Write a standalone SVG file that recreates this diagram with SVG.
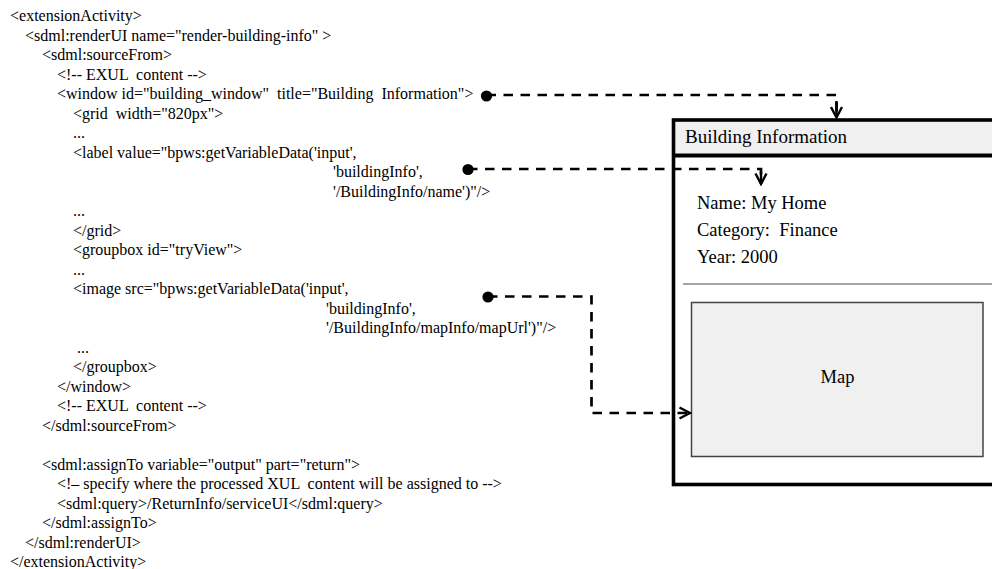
<svg xmlns="http://www.w3.org/2000/svg" width="992" height="569" viewBox="0 0 992 569">
  <style>
    .code { font-family: "Liberation Serif", "Times New Roman", serif; font-size: 16px; fill: #000; }
    .ui { font-family: "Liberation Serif", "Times New Roman", serif; font-size: 18.5px; fill: #000; }
    .title { font-size: 19px; }
    .frame { fill: none; stroke: #000; stroke-width: 3.6; }
    .link { fill: none; stroke: #000; stroke-width: 2.7; stroke-dasharray: 9.5 7.5; }
    .dot { fill: #000; }
  </style>
  <defs>
    <marker id="openArrow" viewBox="0 0 14 14" refX="12" refY="7" markerWidth="14" markerHeight="14" markerUnits="userSpaceOnUse" orient="auto">
      <path d="M1.5,1.5 L12,7 L1.5,12.5" fill="none" stroke="#000" stroke-width="2.4" stroke-dasharray="none"/>
    </marker>
  </defs>
  <rect width="992" height="569" fill="#fff"/>

  <!-- XML listing -->
  <g id="listing" class="code">
    <text x="10" y="21">&lt;extensionActivity&gt;</text>
    <text x="25" y="40.5">&lt;sdml:renderUI name="render-building-info" &gt;</text>
    <text x="42" y="60">&lt;sdml:sourceFrom&gt;</text>
    <text x="57" y="79.5">&lt;!-- EXUL &#160;content --&gt;</text>
    <text x="57" y="99">&lt;window id="building_window" &#160;title="Building &#160;Information"&gt;</text>
    <text x="73" y="118.5">&lt;grid &#160;width="820px"&gt;</text>
    <text x="73" y="138">...</text>
    <text x="73" y="157.5">&lt;label value="bpws:getVariableData('input',</text>
    <text x="333" y="177">'buildingInfo',</text>
    <text x="333" y="196.5">'/BuildingInfo/name')"/&gt;</text>
    <text x="73" y="216">...</text>
    <text x="73" y="235.5">&lt;/grid&gt;</text>
    <text x="73" y="255">&lt;groupbox id="tryView"&gt;</text>
    <text x="73" y="274.5">...</text>
    <text x="73" y="294">&lt;image src="bpws:getVariableData('input',</text>
    <text x="326" y="313.5">'buildingInfo',</text>
    <text x="326" y="333">'/BuildingInfo/mapInfo/mapUrl')"/&gt;</text>
    <text x="77" y="352.5">...</text>
    <text x="73" y="372">&lt;/groupbox&gt;</text>
    <text x="57" y="391.5">&lt;/window&gt;</text>
    <text x="57" y="411">&lt;!-- EXUL &#160;content --&gt;</text>
    <text x="42" y="430.5">&lt;/sdml:sourceFrom&gt;</text>
    <text x="42" y="469.5">&lt;sdml:assignTo variable="output" part="return"&gt;</text>
    <text x="57" y="489">&lt;!– specify where the processed XUL &#160;content will be assigned to --&gt;</text>
    <text x="57" y="508.5">&lt;sdml:query&gt;/ReturnInfo/serviceUI&lt;/sdml:query&gt;</text>
    <text x="42" y="528">&lt;/sdml:assignTo&gt;</text>
    <text x="25" y="547.5">&lt;/sdml:renderUI&gt;</text>
    <text x="10" y="567">&lt;/extensionActivity&gt;</text>
  </g>

  <!-- Rendered window -->
  <g id="window">
    <rect x="673.5" y="120" width="360" height="35.5" fill="#f0f0f0"/>
    <rect class="frame" x="673.5" y="120" width="360" height="364.5"/>
    <line x1="673.5" y1="155.5" x2="1000" y2="155.5" stroke="#000" stroke-width="4"/>
    <text class="ui title" x="685" y="142.5">Building Information</text>
  </g>

  <g id="info-fields" class="ui">
    <text x="697" y="208.5">Name: My Home</text>
    <text x="697" y="236">Category: &#160;Finance</text>
    <text x="697" y="263">Year: 2000</text>
  </g>

  <g id="separator">
    <line x1="683" y1="284" x2="992" y2="284" stroke="#888" stroke-width="1.6"/>
  </g>

  <g id="map">
    <rect x="691.5" y="302.5" width="291.5" height="154" fill="#f0f0f0" stroke="#444" stroke-width="1.5"/>
    <text class="ui" x="837.5" y="383" text-anchor="middle" font-size="18">Map</text>
  </g>

  <!-- Binding connectors -->
  <g id="connectors">
    <circle class="dot" cx="486.5" cy="96" r="5.6"/>
    <path class="link" d="M486.5,95 H836.5 V117.5" marker-end="url(#openArrow)"/>
    <line x1="836.5" y1="101" x2="836.5" y2="116" stroke="#000" stroke-width="2.4"/>

    <circle class="dot" cx="468" cy="169.5" r="5.6"/>
    <path class="link" d="M468,169 H761 V184" marker-end="url(#openArrow)"/>
    <line x1="761" y1="172" x2="761" y2="183" stroke="#000" stroke-width="2.4"/>

    <circle class="dot" cx="488" cy="297" r="5.6"/>
    <path class="link" d="M488,296.5 H591.5 V413 H690" marker-end="url(#openArrow)"/>
  </g>
</svg>
